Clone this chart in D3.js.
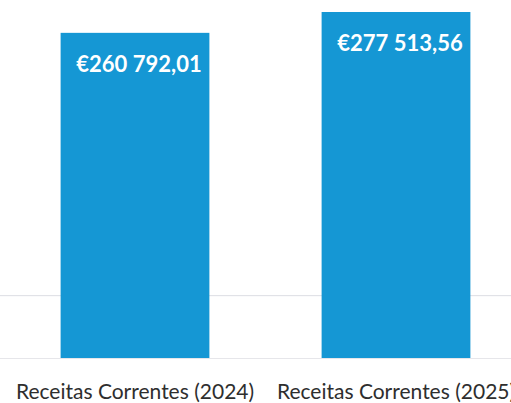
<!DOCTYPE html>
<html>
<head>
<meta charset="utf-8">
<script src="https://cdn.jsdelivr.net/npm/d3@7"></script>
<style>
  html, body { margin: 0; padding: 0; background: #ffffff; }
  svg { display: block; }
</style>
</head>
<body>
<svg id="chart" width="511" height="403"></svg>
<script>
const categories = ["Receitas Correntes (2024)", "Receitas Correntes (2025)"];
const values = [260792.01, 277513.56];
const valueLabels = ["€260 792,01", "€277 513,56"];
const gridValues = [50000];

const W = 511, H = 403;
const baseY = 358, topY = 12;

const svg = d3.select("#chart");

const x = d3.scaleBand()
  .domain(categories)
  .range([4.5, 526.5])
  .paddingInner(0.43)
  .paddingOuter(0.215);

const y = d3.scaleLinear()
  .domain([0, d3.max(values)])
  .range([baseY, topY]);

// faint gridlines
svg.append("g")
  .selectAll("line")
  .data(gridValues)
  .join("line")
  .attr("x1", 0).attr("x2", W)
  .attr("y1", d => y(d)).attr("y2", d => y(d))
  .attr("stroke", "#dcdde3")
  .attr("stroke-width", 1);

// baseline
svg.append("line")
  .attr("x1", 0).attr("x2", W)
  .attr("y1", baseY + 0.5).attr("y2", baseY + 0.5)
  .attr("stroke", "#e6e6ea")
  .attr("stroke-width", 1);

const data = categories.map((c, i) => ({ c, v: values[i], label: valueLabels[i] }));

svg.append("g")
  .selectAll("rect")
  .data(data)
  .join("rect")
  .attr("x", d => x(d.c))
  .attr("width", x.bandwidth())
  .attr("y", d => y(d.v))
  .attr("height", d => baseY - y(d.v))
  .attr("fill", "#1597d4");

svg.append("g")
  .selectAll("text")
  .data(data)
  .join("text")
  .attr("x", d => x(d.c) + x.bandwidth() / 2 + 4)
  .attr("y", d => y(d.v) + 39)
  .attr("text-anchor", "middle")
  .attr("fill", "#ffffff")
  .attr("font-family", "Lato, 'Open Sans', sans-serif")
  .attr("font-weight", "bold")
  .attr("font-size", "22px")
  .text(d => d.label);

const xAxis = svg.append("g")
  .attr("transform", `translate(0,${baseY})`)
  .call(d3.axisBottom(x).tickSize(0).tickPadding(26));
xAxis.select(".domain").remove();
xAxis.selectAll("text")
  .attr("fill", "#2e2e2e")
  .attr("font-family", "Lato, 'Open Sans', sans-serif")
  .attr("font-size", "21px");
</script>
</body>
</html>
